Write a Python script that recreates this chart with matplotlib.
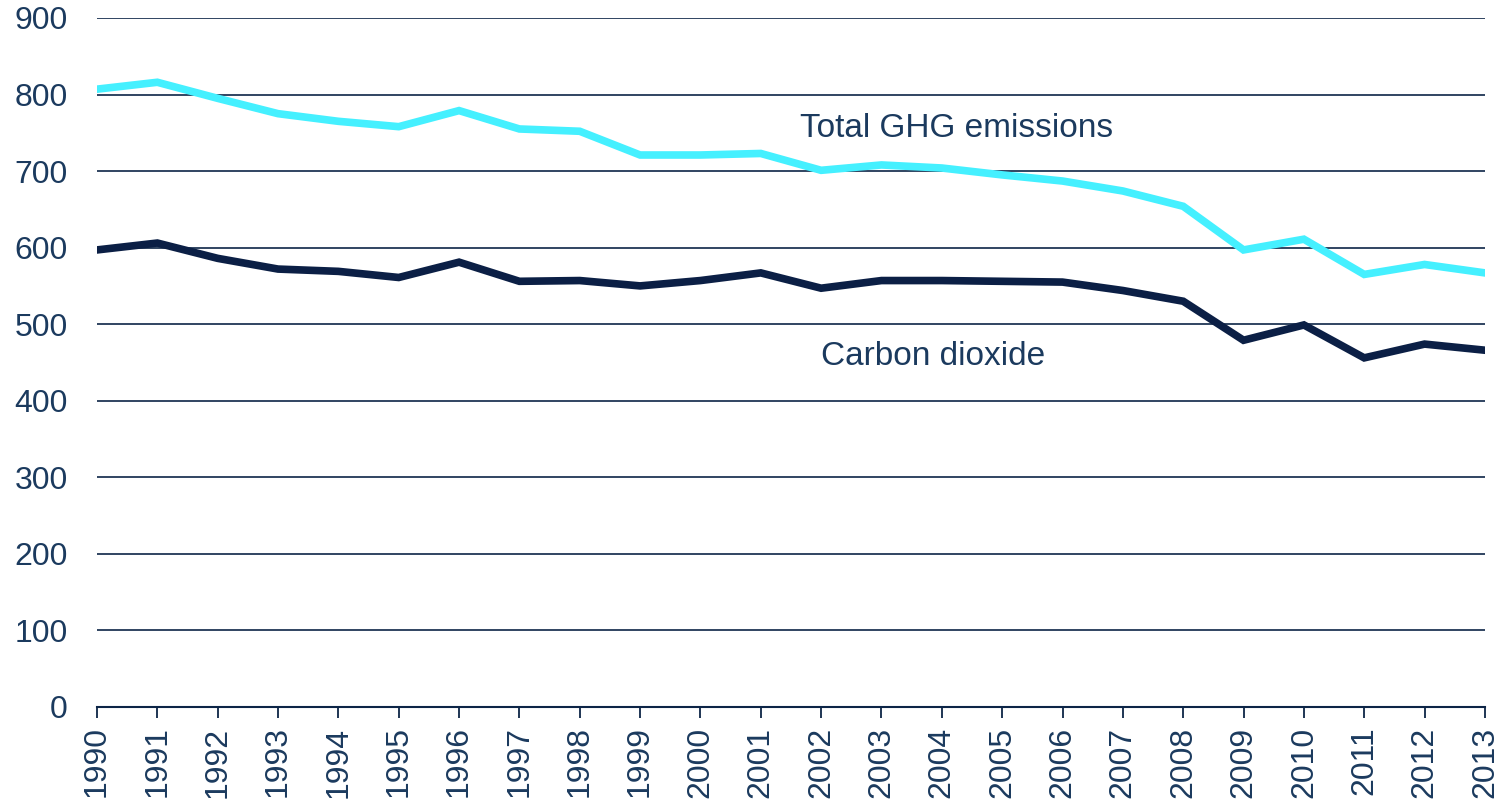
import matplotlib
matplotlib.use("Agg")
import matplotlib.pyplot as plt

years = list(range(1990, 2014))
ghg = [807, 816, 795, 775, 765, 758, 779, 755, 752, 721, 721, 723, 701, 708, 704, 695, 687, 674, 654, 597, 611, 565, 578, 567]
co2 = [597, 606, 586, 572, 569, 561, 581, 556, 557, 550, 557, 567, 547, 557, 557, 556, 555, 544, 530, 479, 499, 456, 474, 466]
y_ticks = [0, 100, 200, 300, 400, 500, 600, 700, 800, 900]

plt.rcParams['font.family'] = ['Liberation Sans', 'DejaVu Sans']
navy = '#0d2547'
txt = '#1b3a5e'

fig = plt.figure(figsize=(15.06, 8.02), dpi=100)
ax = fig.add_axes([0.0644, 0.1185, 0.9216, 0.8591])

ax.plot(years, ghg, color='#45F0FF', lw=5.5, solid_joinstyle='miter')
ax.plot(years, co2, color='#0b1f45', lw=5.5, solid_joinstyle='miter')

ax.set_xlim(1990, 2013)
ax.set_ylim(0, 900)
ax.set_yticks(y_ticks)
ax.set_xticks(years)
ax.set_xticklabels([str(y) for y in years], rotation=90, fontsize=23, color=txt)
ax.set_yticklabels([str(v) for v in y_ticks], fontsize=23, color=txt)
ax.yaxis.grid(True, color=navy, lw=1.2)
ax.set_axisbelow(True)
for s in ['left', 'right', 'top']:
    ax.spines[s].set_visible(False)
ax.spines['bottom'].set_color(navy)
ax.spines['bottom'].set_linewidth(1.5)
ax.tick_params(axis='y', length=0, pad=21)
ax.tick_params(axis='x', length=8, width=1.3, color=navy, pad=6, direction='out')

ax.text(2001.65, 756, 'Total GHG emissions', fontsize=24, color=txt, va='center', ha='left')
ax.text(2002.0, 458, 'Carbon dioxide', fontsize=24, color=txt, va='center', ha='left')

fig.savefig('out.png', dpi=100)
